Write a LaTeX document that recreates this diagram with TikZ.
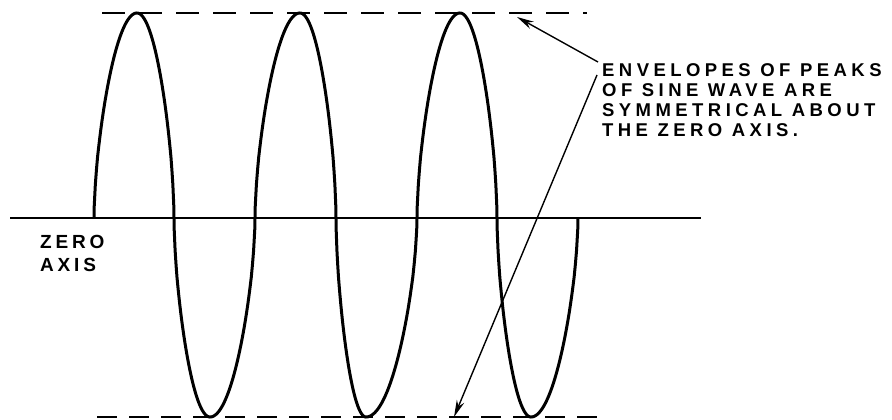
\documentclass[tikz,border=0pt]{standalone}
\usepackage{fontspec}
\setmainfont{Liberation Sans}
\usetikzlibrary{arrows.meta}
\begin{document}
\begin{tikzpicture}[x=1pt,y=-1pt,
  wave/.style={line width=3pt,line join=round},
  axisline/.style={line width=2pt},
  envtop/.style={line width=2.2pt,dash pattern=on 23pt off 14pt},
  envbot/.style={line width=2.2pt,dash pattern=on 20pt off 12pt},
  pointer/.style={line width=1.4pt,-{Stealth[length=17pt,width=8pt]}},
  lbl/.style={font=\bfseries\fontsize{18.5}{20}\selectfont\addfontfeatures{LetterSpace=24},inner sep=0pt,align=left},
  axlbl/.style={font=\bfseries\fontsize{19}{23}\selectfont\addfontfeatures{LetterSpace=20},inner sep=0pt,align=left}]
\useasboundingbox (0,0) rectangle (892,420);
% zero axis
\coordinate (axL) at (10,218);
\coordinate (axR) at (701,218);
\draw[axisline] (axL) -- (axR);
% envelopes
\coordinate (tL) at (102,13);
\coordinate (tR) at (587,13);
\coordinate (bL) at (97,417);
\coordinate (bR) at (602,417);
\draw[envtop] (tL) -- (tR);
\draw[envbot] (bL) -- (bR);
% wave
\coordinate (w0) at (94,218);
\draw[wave] (w0) \foreach \a/\p/\b/\s in {94/137/174/205, 174/210/255/-199, 255/300/336/205, 336/366/417/-199, 417/460/497/205, 497/531/578/-199} {
  -- plot[domain=0.5:90, samples=40, variable=\t] ({\a+(\p-\a)*\t/90},{218-\s*pow(sin(\t),0.6)})
  -- plot[domain=90:179.5, samples=40, variable=\t] ({\p+(\b-\p)*(\t-90)/90},{218-\s*pow(sin(\t),0.6)})
  -- (\b,218) };
% labels
\node[lbl,anchor=north west] (note) at (602,63) {ENVELOPES OF PEAKS\\OF SINE WAVE ARE\\SYMMETRICAL ABOUT\\THE ZERO AXIS.};
\node[axlbl,anchor=north west] (zero) at (40,235) {ZERO\\AXIS};
% pointers
\coordinate (s1) at (598,62);
\coordinate (s2) at (597,75);
\coordinate (e1) at (517,17);
\coordinate (e2) at (454,417);
\draw[pointer] (s1) -- (e1);
\draw[pointer] (s2) -- (e2);
\end{tikzpicture}
\end{document}
